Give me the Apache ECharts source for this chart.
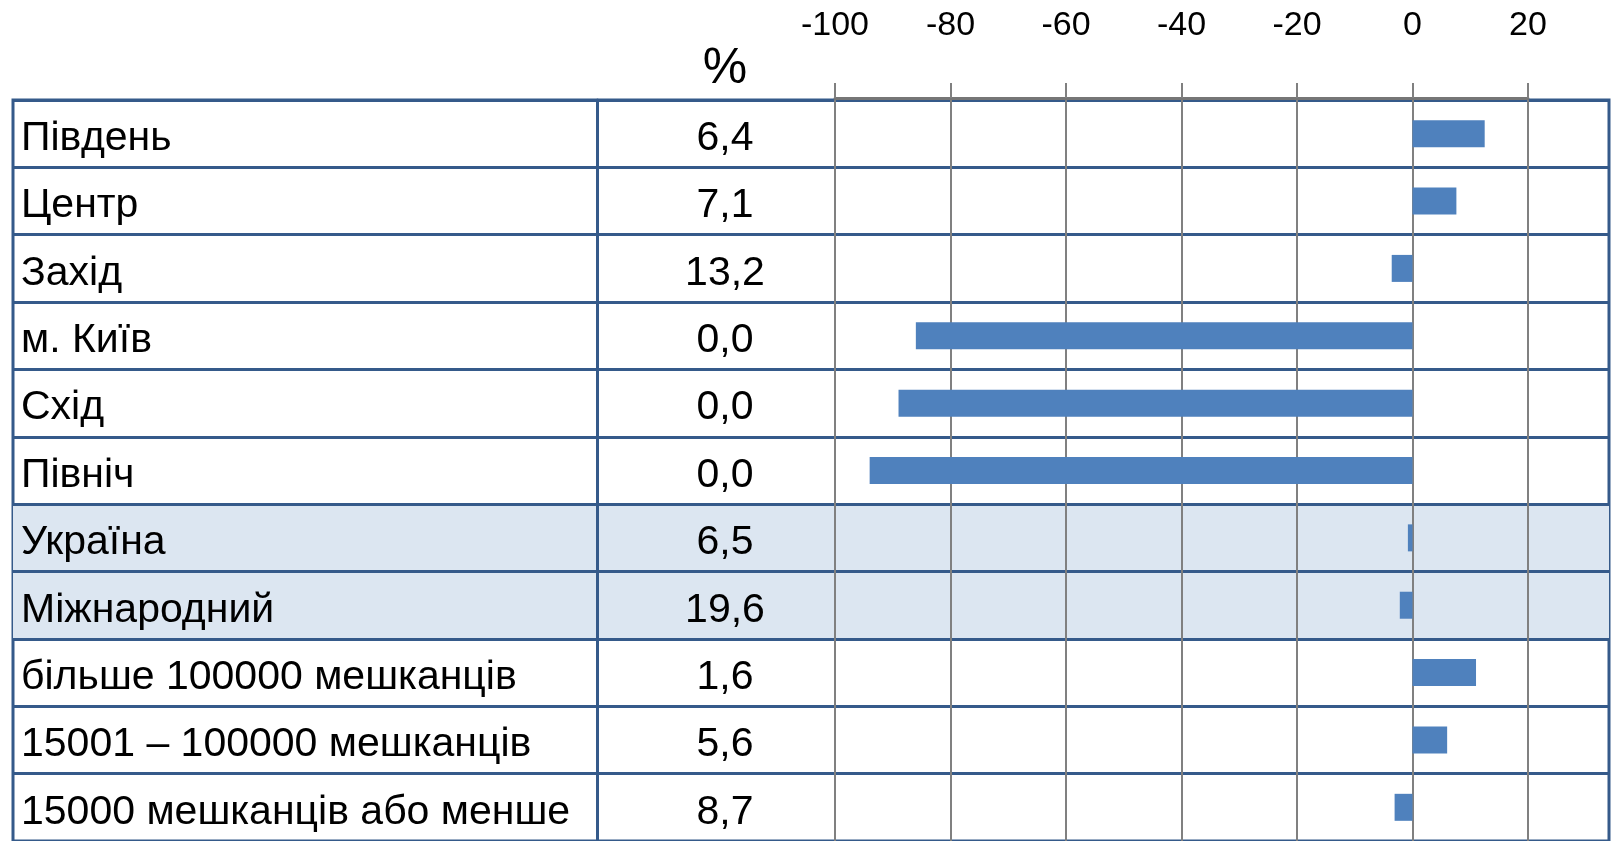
<!DOCTYPE html>
<html>
<head>
<meta charset="utf-8">
<script src="https://cdn.jsdelivr.net/npm/echarts@6/dist/echarts.min.js"></script>
<style>
  html, body { margin: 0; padding: 0; background: #fff; }
  #chart { width: 1614px; height: 841px; }
</style>
</head>
<body>
<div id="chart"></div>
<script>
// рядки таблиці
var categories = [
  'Південь', 'Центр', 'Захід', 'м. Київ', 'Схід', 'Північ',
  'Україна', 'Міжнародний',
  'більше 100000 мешканців', '15001 – 100000 мешканців', '15000 мешканців або менше'
];
// колонка "%"
var percentLabels = ['6,4', '7,1', '13,2', '0,0', '0,0', '0,0', '6,5', '19,6', '1,6', '5,6', '8,7'];
// значення стовпчиків
var barValues = [12.5, 7.6, -3.6, -86, -89, -94, -0.8, -2.2, 11, 6, -3.1];
// виділені рядки (світло-синій фон)
var highlighted = [0, 0, 0, 0, 0, 0, 1, 1, 0, 0, 0];
// шкала
var xMin = -100, xMax = 20, xStep = 20;

var FONT = 'Liberation Sans';
var BORDER = '#355A8A';
var GRIDC = '#808080';

// текст комірки трохи нижче центру рядка
var cellText = { t: { padding: [10, 0, 0, 0], color: '#000', fontFamily: FONT, fontSize: 41 } };
function cell(v) { return '{t|' + v + '}'; }

var chart = echarts.init(document.getElementById('chart'), null, { renderer: 'canvas' });

var option = {
  backgroundColor: '#fff',
  animation: false,
  title: {
    text: '%',
    left: 720,
    top: 39,
    textAlign: 'center',
    textStyle: { fontFamily: FONT, fontSize: 50, fontWeight: 'normal', color: '#000' }
  },
  grid: [
    // вся таблиця
    { left: 13, right: 5, top: 100, bottom: 0, show: true, borderColor: BORDER, borderWidth: 3, backgroundColor: 'transparent' },
    // область графіка
    { left: 835, right: 86, top: 100, bottom: 0 }
  ],
  xAxis: [
    { gridIndex: 0, type: 'value', min: 0, max: 1, show: false },
    {
      gridIndex: 1,
      type: 'value',
      position: 'top',
      offset: 2,
      min: xMin,
      max: xMax,
      interval: xStep,
      z: 3,
      axisLine: { show: true, lineStyle: { color: '#767676', width: 3 } },
      axisTick: { show: true, inside: false, length: 15, lineStyle: { color: GRIDC, width: 2 } },
      axisLabel: { show: true, margin: 55, color: '#000', fontFamily: FONT, fontSize: 34 },
      splitLine: { show: true, lineStyle: { color: GRIDC, width: 2 } }
    }
  ],
  yAxis: [
    {
      gridIndex: 0,
      type: 'category',
      data: categories,
      inverse: true,
      position: 'left',
      z: 3,
      axisLine: { show: false },
      axisTick: { show: false },
      axisLabel: { show: true, inside: true, margin: 8, formatter: cell, rich: cellText },
      splitLine: { show: true, lineStyle: { color: BORDER, width: 3 } }
    },
    {
      gridIndex: 0,
      type: 'category',
      data: percentLabels,
      inverse: true,
      position: 'right',
      offset: -1012,
      z: 3,
      axisLine: { show: true, lineStyle: { color: BORDER, width: 3 } },
      axisTick: { show: false },
      axisLabel: { show: true, inside: false, margin: 128, align: 'center', formatter: cell, rich: cellText },
      splitLine: { show: false }
    },
    {
      gridIndex: 1,
      type: 'category',
      data: categories,
      inverse: true,
      show: false
    }
  ],
  series: [
    {
      name: 'фон',
      type: 'bar',
      xAxisIndex: 0,
      yAxisIndex: 0,
      data: highlighted,
      barWidth: '100%',
      silent: true,
      z: 1,
      itemStyle: { color: '#DCE6F1' }
    },
    {
      name: 'значення',
      type: 'bar',
      xAxisIndex: 1,
      yAxisIndex: 2,
      data: barValues,
      barWidth: 27,
      z: 4,
      itemStyle: { color: '#4F81BD' }
    }
  ]
};

chart.setOption(option);
</script>
</body>
</html>
